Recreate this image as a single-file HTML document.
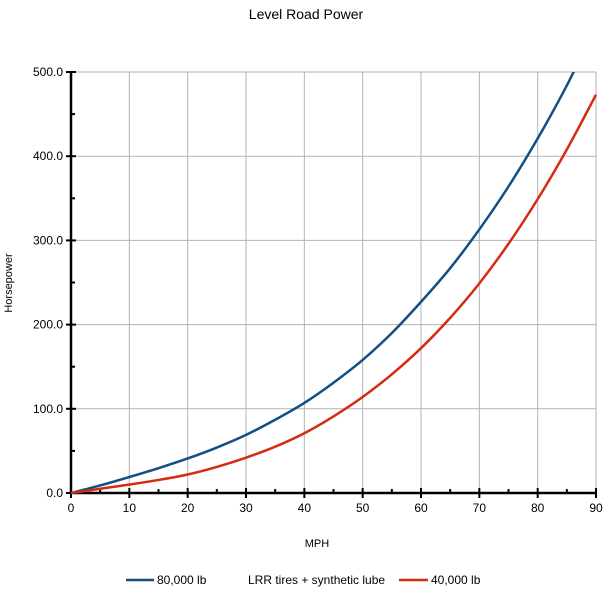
<!DOCTYPE html>
<html><head><meta charset="utf-8"><style>
body{margin:0;background:#fff;}
svg text{font-family:"Liberation Sans",Arial,sans-serif;fill:#000;}
</style></head><body>
<svg width="614" height="593" id="chart">
<defs><clipPath id="pc"><rect x="71" y="72" width="526" height="422"/></clipPath></defs>
<text x="306" y="19" font-size="14" text-anchor="middle">Level Road Power</text>
<g id="grid"></g>
<g id="axes"></g>
<g id="series" clip-path="url(#pc)"></g>
<text x="317" y="547" font-size="11" text-anchor="middle">MPH</text>
<text transform="translate(12,283) rotate(-90)" font-size="11" text-anchor="middle">Horsepower</text>
<g>
<g><line x1="126" y1="580" x2="154" y2="580" stroke="#134e84" stroke-width="2.5"/><text x="157" y="584" font-size="12">80,000 lb</text></g>
<g><text x="248" y="584" font-size="12">LRR tires + synthetic lube</text><line x1="399" y1="580" x2="428" y2="580" stroke="#d42c10" stroke-width="2.5"/><text x="431" y="584" font-size="12">40,000 lb</text></g>
</g>
</svg>
<script>
const mph=[0,5,10,15,20,25,30,35,40,45,50,55,60,65,70,75,80,85,90];
const hp80=[0,9,19,29.5,41,54,69,87,107,131,158,190,227,267,313,364,421,484,555];
const mph40=[0,5,10,15,20,25,30,35,40,45,50,55,60,65,70,75,80,85,90];
const hp40=[0,5,10,15.5,22,31,42,55,71,91,114,141,172,208,249,296,349,408,473];
const xTicks=[0,10,20,30,40,50,60,70,80,90];
const yTicks=[0,100,200,300,400,500];
const yTickLabels=["0.0","100.0","200.0","300.0","400.0","500.0"];
const NS="http://www.w3.org/2000/svg";
const X=v=>71+v*(596-71)/90, Y=v=>493-v*(493-72)/500;
function mk(t,a,p){const e=document.createElementNS(NS,t);for(const k in a)e.setAttribute(k,a[k]);p.appendChild(e);return e;}
const grid=document.getElementById('grid'),axes=document.getElementById('axes'),ser=document.getElementById('series');
xTicks.forEach(v=>{if(v>0){const l=mk('line',{x1:X(v),x2:X(v),y1:72,y2:493,stroke:'#b3b3b3'},grid);

}
const t=mk('text',{x:X(v),y:512,'font-size':12,'text-anchor':'middle'},axes);t.textContent=v;


mk('line',{x1:X(v),x2:X(v),y1:488,y2:498,stroke:'#000','stroke-width':2},axes);
if(v<90)mk('line',{x1:X(v+5),x2:X(v+5),y1:489,y2:493,stroke:'#000','stroke-width':2},axes);});
yTicks.forEach((v,i)=>{if(v>0){const l=mk('line',{x1:71,x2:596,y1:Y(v),y2:Y(v),stroke:'#b3b3b3'},grid);

}
const t=mk('text',{x:63,y:Y(v)+4,'font-size':12,'text-anchor':'end'},axes);t.textContent=yTickLabels[i];


mk('line',{x1:66,x2:76,y1:Y(v),y2:Y(v),stroke:'#000','stroke-width':2},axes);
if(v<500)mk('line',{x1:71,x2:75,y1:Y(v+50),y2:Y(v+50),stroke:'#000','stroke-width':2},axes);});
mk('line',{x1:71,x2:71,y1:72,y2:494,stroke:'#000','stroke-width':2.5},axes);
mk('line',{x1:70,x2:597,y1:493,y2:493,stroke:'#000','stroke-width':2.5},axes);
function path(xs,ys){const p=xs.map((x,i)=>[X(x),Y(ys[i])]);let d=`M${p[0][0]},${p[0][1]}`;
for(let i=0;i<p.length-1;i++){const a=p[i-1]||p[i],b=p[i],c=p[i+1],e=p[i+2]||c;
d+=` C${b[0]+(c[0]-a[0])/6},${b[1]+(c[1]-a[1])/6} ${c[0]-(e[0]-b[0])/6},${c[1]-(e[1]-b[1])/6} ${c[0]},${c[1]}`;}return d;}
const s1=mk('path',{d:path(mph,hp80),fill:'none',stroke:'#134e84','stroke-width':2.5},ser);


const s2=mk('path',{d:path(mph40,hp40),fill:'none',stroke:'#d42c10','stroke-width':2.5},ser);


</script>
</body></html>
